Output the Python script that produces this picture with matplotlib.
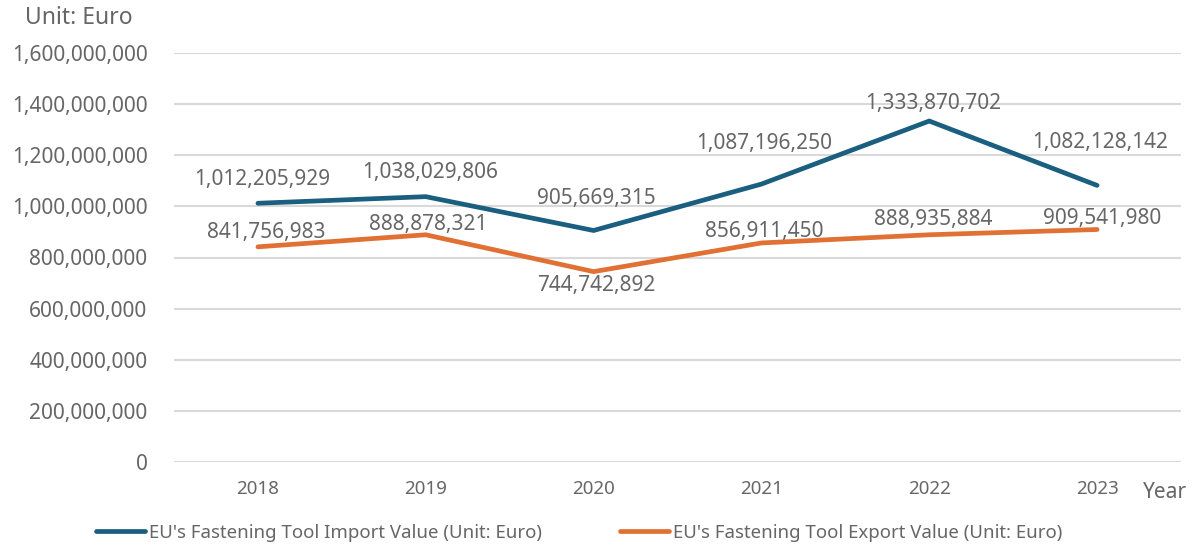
import matplotlib
matplotlib.use("Agg")
import matplotlib.pyplot as plt
from matplotlib.ticker import FuncFormatter, MultipleLocator

plt.rcParams['font.family'] = ['Noto Sans', 'DejaVu Sans']

years = ['2018', '2019', '2020', '2021', '2022', '2023']
import_values = [1012205929, 1038029806, 905669315, 1087196250, 1333870702, 1082128142]
export_values = [841756983, 888878321, 744742892, 856911450, 888935884, 909541980]
import_label = "EU's Fastening Tool Import Value (Unit: Euro)"
export_label = "EU's Fastening Tool Export Value (Unit: Euro)"

# label offsets in pixels (style)
import_offsets = [(4, 24), (4, 24), (3, 32), (3, 41), (4, 18), (3, 43)]
export_offsets = [(8, 14), (2, 10), (3, -14), (3, 11), (4, 15), (5, 11)]

W, H = 1194, 549
fig = plt.figure(figsize=(W / 100, H / 100), dpi=100)
ax = fig.add_axes([174 / W, 1 - 462 / H, (1181 - 174) / W, (462 - 53) / H])

BLUE = '#1A5E80'
ORANGE = '#E07033'
GRAY = '#666666'

x = list(range(len(years)))
l1, = ax.plot(x, import_values, color=BLUE, lw=3.4, solid_capstyle='round', solid_joinstyle='miter', zorder=3)
l2, = ax.plot(x, export_values, color=ORANGE, lw=3.4, solid_capstyle='round', solid_joinstyle='miter', zorder=3)

for xi, v, off in zip(x, import_values, import_offsets):
    ax.annotate(f"{v:,}", (xi, v), xytext=off, textcoords='offset pixels',
                ha='center', va='center', fontsize=15, color=GRAY, zorder=4)
for xi, v, off in zip(x, export_values, export_offsets):
    ax.annotate(f"{v:,}", (xi, v), xytext=off, textcoords='offset pixels',
                ha='center', va='center', fontsize=15, color=GRAY, zorder=4)

ax.set_xlim(-0.5, len(years) - 0.5)
ax.set_ylim(0, 1600000000)
ax.yaxis.set_major_locator(MultipleLocator(200000000))
ax.yaxis.set_major_formatter(FuncFormatter(lambda v, p: f"{int(v):,}"))
ax.set_xticks(x)
ax.set_xticklabels(years)
ax.grid(axis='y', color='#D9D9D9', lw=1.5)
ax.set_axisbelow(True)
for s in ax.spines.values():
    s.set_visible(False)
ax.tick_params(axis='y', length=0, pad=19, labelsize=15, labelcolor=GRAY)
ax.tick_params(axis='x', length=0, pad=13, labelsize=13.5, labelcolor=GRAY)

fig.text(25 / W, 1 - 18 / H, 'Unit: Euro', fontsize=16.5, color=GRAY, ha='left', va='center')
fig.text(1187 / W, 1 - 493 / H, 'Year', fontsize=15, color=GRAY, ha='right', va='center')

fs = 13.4
fpx = fs * 100 / 72
fig.legend([l1, l2], [import_label, export_label], ncol=2, frameon=False,
           loc='center left', bbox_to_anchor=(96 / W, 1 - 533 / H),
           borderpad=0, borderaxespad=0, fontsize=fs, labelcolor=GRAY,
           handlelength=49 / fpx, handletextpad=4 / fpx, columnspacing=78 / fpx)

fig.savefig('out.png', dpi=100)
